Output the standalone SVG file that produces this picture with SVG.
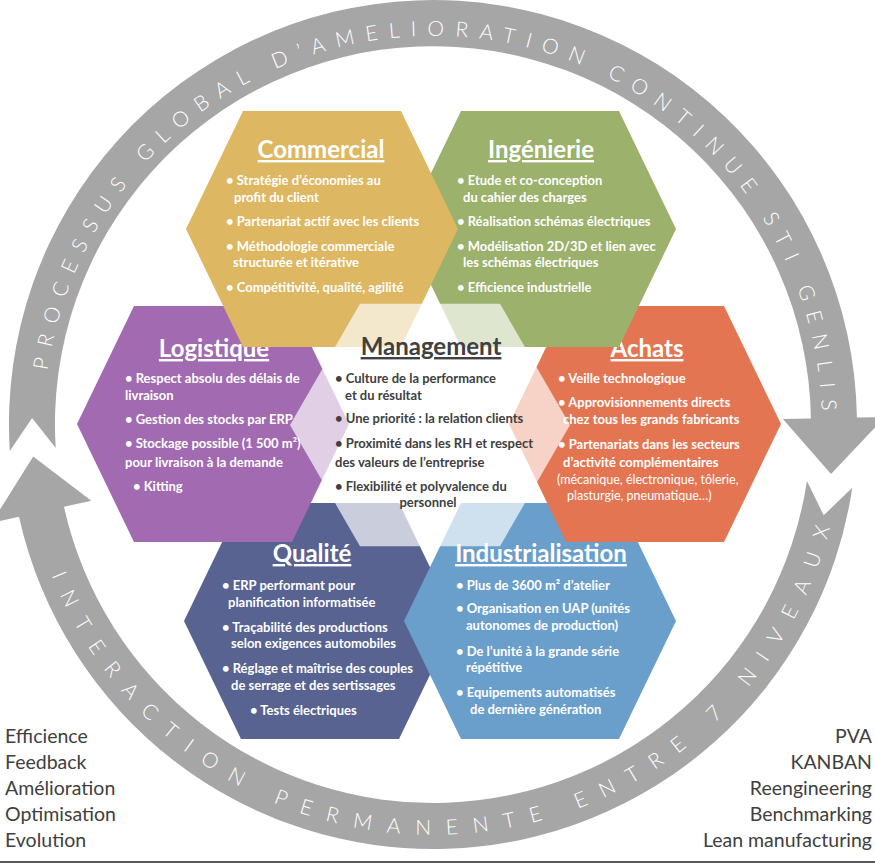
<svg xmlns="http://www.w3.org/2000/svg" width="875" height="865" viewBox="0 0 875 865">
<style>
.t{font-family:Lato,'Open Sans','Liberation Sans',sans-serif;font-weight:700;font-size:13px;fill:#fff}
.r{font-weight:400;font-size:12.5px}
.h{font-family:Lato,'Open Sans','Liberation Sans',sans-serif;font-weight:700;font-size:24px;fill:#fff;text-anchor:middle;text-decoration:underline}
.dk{fill:#404040}
.ring{fill:#a6a6a6}
.rt{font-family:Lato,'Open Sans','Liberation Sans',sans-serif;font-weight:300;font-size:21px;fill:#fff}
.side{font-family:Lato,'Open Sans','Liberation Sans',sans-serif;font-weight:400;font-size:19.5px;fill:#404040}
</style>
<defs>
<polygon id="hex" points="-136,0 -79,-118 79,-118 136,0 79,118 -79,118"/>
<path id="pu" d="M44.2,438.6 A389,389 0 1 1 821.9,418.2"/>
<path id="pl" d="M43.1,551.7 A410,410 0 0 0 834.0,510.2"/>
</defs>
<rect width="875" height="865" fill="#fff"/>
<g id="connectors">
<path class="ring" d="M9.8,450.9 L32.1,418.0 L55.7,448.1 A378,378 0 1 1 810.9,418.4 L782.9,418.9 L831.0,473.9 L884.9,417.1 L856.9,417.6 A424,424 0 1 0 9.8,450.9 Z"/>
<path class="ring" d="M852.3,487.7 L823.7,515.2 L806.9,480.9 A378,378 0 0 1 64.0,506.8 L91.3,500.8 L33.2,456.5 L-8.3,522.8 L19.0,516.8 A424,424 0 0 0 852.3,487.7 Z"/>
<text class="rt" letter-spacing="11"><textPath href="#pu" startOffset="68">PROCESSUS GLOBAL D’AMELIORATION CONTINUE STI GENLIS</textPath></text>
<text class="rt" letter-spacing="15.3"><textPath href="#pl" startOffset="25">INTERACTION PERMANENTE ENTRE 7 NIVEAUX</textPath></text>
</g>
<g id="qualite">
<use href="#hex" x="320" y="621" fill="#586392"/>
<text class="h" x="312" y="562">Qualité</text>
<text class="t" x="222" y="590">• ERP performant pour</text>
<text class="t" x="228" y="607">planification informatisée</text>
<text class="t" x="222" y="632">• Traçabilité des productions</text>
<text class="t" x="231" y="648">selon exigences automobiles</text>
<text class="t" x="222" y="673">• Réglage et maîtrise des couples</text>
<text class="t" x="231" y="690">de serrage et des sertissages</text>
<text class="t" x="250" y="715">• Tests électriques</text>
</g>
<g id="industrialisation">
<use href="#hex" x="540" y="621" fill="#6A9ECB"/>
<text class="h" x="541" y="562">Industrialisation</text>
<text class="t" x="456" y="590">• Plus de 3600 m² d’atelier</text>
<text class="t" x="456" y="613">• Organisation en UAP (unités</text>
<text class="t" x="466" y="630">autonomes de production)</text>
<text class="t" x="456" y="656">• De l’unité à la grande série</text>
<text class="t" x="466" y="672">répétitive</text>
<text class="t" x="456" y="697">• Equipements automatisés</text>
<text class="t" x="470" y="714">de dernière génération</text>
</g>
<g id="achats">
<use href="#hex" x="645" y="424" fill="#E37552"/>
<text class="h" x="647" y="357">Achats</text>
<text class="t" x="558" y="383">• Veille technologique</text>
<text class="t" x="558" y="407">• Approvisionnements directs</text>
<text class="t" x="563" y="424">chez tous les grands fabricants</text>
<text class="t" x="558" y="449">• Partenariats dans les secteurs</text>
<text class="t" x="563" y="467">d’activité complémentaires</text>
<text class="t r" x="557" y="484">(mécanique, électronique, tôlerie,</text>
<text class="t r" x="567" y="500">plasturgie, pneumatique…)</text>
</g>
<g id="ingenierie">
<use href="#hex" x="540" y="229" fill="#9BB16C"/>
<text class="h" x="541" y="158">Ingénierie</text>
<text class="t" x="457" y="185">• Etude et co-conception</text>
<text class="t" x="463" y="202">du cahier des charges</text>
<text class="t" x="457" y="226">• Réalisation schémas électriques</text>
<text class="t" x="457" y="251">• Modélisation 2D/3D et lien avec</text>
<text class="t" x="463" y="267">les schémas électriques</text>
<text class="t" x="457" y="292">• Efficience industrielle</text>
</g>
<g id="logistique">
<use href="#hex" x="213" y="424" fill="#A16AB1"/>
<text class="h" x="214" y="357">Logistique</text>
<text class="t" x="125" y="383">• Respect absolu des délais de</text>
<text class="t" x="125" y="400">livraison</text>
<text class="t" x="125" y="424">• Gestion des stocks par ERP</text>
<text class="t" x="125" y="448">• Stockage possible (1 500 m²)</text>
<text class="t" x="125" y="467">pour livraison à la demande</text>
<text class="t" x="133" y="491">• Kitting</text>
</g>
<g id="commercial">
<use href="#hex" x="322" y="229" fill="#DEB762"/>
<text class="h" x="321" y="158">Commercial</text>
<text class="t" x="226" y="185">• Stratégie d’économies au</text>
<text class="t" x="234" y="202">profit du client</text>
<text class="t" x="226" y="226">• Partenariat actif avec les clients</text>
<text class="t" x="226" y="251">• Méthodologie commerciale</text>
<text class="t" x="233" y="267">structurée et itérative</text>
<text class="t" x="226" y="292">• Compétitivité, qualité, agilité</text>
</g>
<g id="management">
<polygon points="290,425 360,303.8 500,303.8 570,425 500,546.2 360,546.2" fill="#fff" fill-opacity="0.68"/>
<text class="h dk" x="431" y="355">Management</text>
<text class="t dk" x="335" y="383">• Culture de la performance</text>
<text class="t dk" x="345" y="400">et du résultat</text>
<text class="t dk" x="335" y="423">• Une priorité : la relation clients</text>
<text class="t dk" x="335" y="448">• Proximité dans les RH et respect</text>
<text class="t dk" x="335" y="467">des valeurs de l’entreprise</text>
<text class="t dk" x="335" y="491">• Flexibilité et polyvalence du</text>
<text class="t dk" x="428" y="507" text-anchor="middle">personnel</text>
</g>
<g id="left-list" class="side">
<text x="5" y="743">Efficience</text>
<text x="5" y="769">Feedback</text>
<text x="5" y="795">Amélioration</text>
<text x="5" y="821">Optimisation</text>
<text x="5" y="847">Evolution</text>
</g>
<g id="right-list" class="side" text-anchor="end">
<text x="872" y="743">PVA</text>
<text x="872" y="769">KANBAN</text>
<text x="872" y="795">Reengineering</text>
<text x="872" y="821">Benchmarking</text>
<text x="872" y="847">Lean manufacturing</text>
</g>
<line x1="0" y1="862" x2="875" y2="862" stroke="#595959" stroke-width="2"/>
</svg>
